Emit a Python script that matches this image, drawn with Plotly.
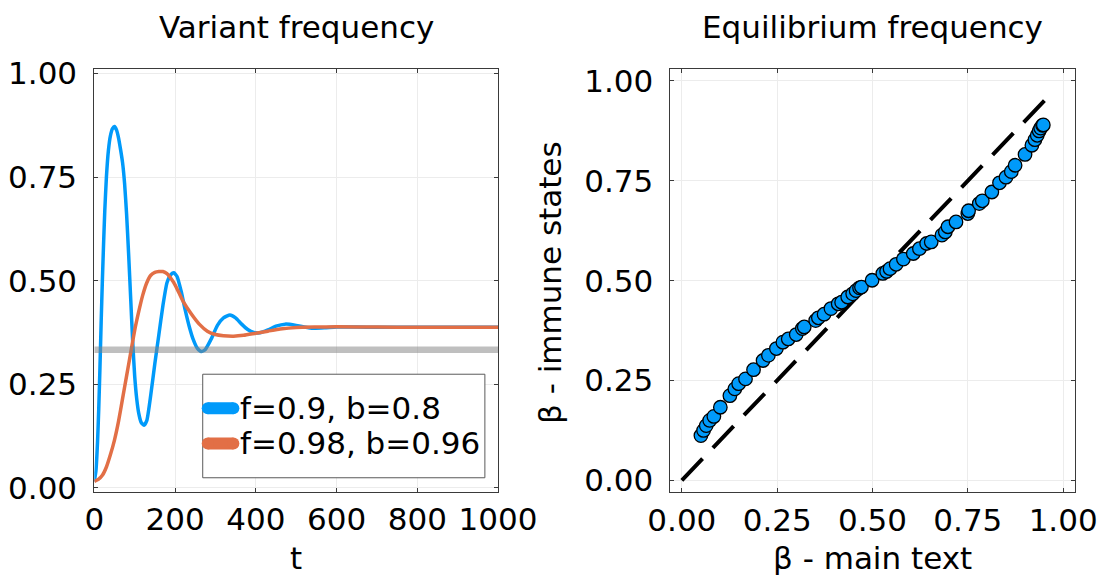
import plotly.graph_objects as go

W, H = 1112, 578
OFF = 8  # page body margin compensation
FONT = "DejaVu Sans"
FS = 31

# ---------------- data: left panel ----------------
t_blue = [0, 4, 8, 11, 14, 17, 20, 23, 26, 30, 35, 40, 45, 50, 55, 60, 65, 70, 75, 80, 85,
          90, 95, 100, 105, 110, 116, 123, 130, 140, 150, 160, 170, 180, 190, 197, 205,
          215, 225, 235, 245, 255, 265, 275, 290, 305, 320, 336, 350, 365, 380, 395, 410,
          430, 450, 473, 500, 520, 543, 570, 600, 650, 700, 800, 1000]
v_blue = [0.015, 0.04, 0.11, 0.19, 0.29, 0.4, 0.5, 0.59, 0.67, 0.75, 0.815, 0.85, 0.867,
          0.872, 0.864, 0.845, 0.817, 0.785, 0.735, 0.66, 0.565, 0.46, 0.355, 0.27, 0.215,
          0.18, 0.158, 0.151, 0.162, 0.225, 0.3, 0.37, 0.44, 0.495, 0.515, 0.519, 0.51,
          0.475, 0.43, 0.39, 0.358, 0.337, 0.329, 0.334, 0.36, 0.392, 0.41, 0.417, 0.41,
          0.395, 0.382, 0.375, 0.374, 0.381, 0.39, 0.395, 0.392, 0.388, 0.385, 0.386, 0.388,
          0.388, 0.3875, 0.3874, 0.3874]

t_orange = [0, 10, 20, 30, 40, 50, 60, 70, 80, 90, 100, 110, 120, 130, 140, 150, 160, 170,
            180, 190, 200, 210, 220, 240, 260, 280, 300, 320, 345, 370, 400, 430, 460, 500,
            550, 600, 700, 800, 1000]
v_orange = [0.015, 0.02, 0.03, 0.05, 0.08, 0.115, 0.16, 0.215, 0.27, 0.325, 0.38, 0.425,
            0.465, 0.495, 0.513, 0.52, 0.522, 0.522, 0.517, 0.505, 0.49, 0.47, 0.45, 0.42,
            0.395, 0.378, 0.37, 0.367, 0.366, 0.368, 0.373, 0.378, 0.383, 0.387, 0.388,
            0.3885, 0.3878, 0.3875, 0.3875]

ref_t = [0, 1000]
ref_level = [1 / 3, 1 / 3]

series_names = ["f=0.9, b=0.8", "f=0.98, b=0.96"]

# ---------------- data: right panel ----------------
beta_main = [0.050, 0.057, 0.064, 0.073, 0.084, 0.101, 0.126, 0.139, 0.149, 0.167, 0.188,
             0.213, 0.227, 0.248, 0.265, 0.279, 0.300, 0.316, 0.321, 0.351, 0.358, 0.373,
             0.391, 0.410, 0.419, 0.435, 0.448, 0.457, 0.466, 0.471, 0.499, 0.527, 0.537,
             0.546, 0.562, 0.581, 0.607, 0.623, 0.642, 0.654, 0.682, 0.691, 0.698, 0.719,
             0.750, 0.752, 0.780, 0.788, 0.813, 0.833, 0.850, 0.864, 0.874, 0.900, 0.918,
             0.926, 0.932, 0.937, 0.941, 0.946, 0.948]
beta_immune = [0.112, 0.125, 0.137, 0.150, 0.160, 0.183, 0.212, 0.229, 0.242, 0.254, 0.277,
               0.300, 0.313, 0.330, 0.346, 0.354, 0.365, 0.380, 0.384, 0.400, 0.407, 0.416,
               0.430, 0.442, 0.446, 0.459, 0.467, 0.475, 0.482, 0.484, 0.501, 0.518, 0.523,
               0.530, 0.541, 0.554, 0.568, 0.580, 0.593, 0.597, 0.614, 0.622, 0.635, 0.647,
               0.668, 0.675, 0.693, 0.700, 0.722, 0.745, 0.759, 0.773, 0.789, 0.816, 0.839,
               0.853, 0.864, 0.875, 0.882, 0.889, 0.890]
diag = [0.0, 0.97]

left_xticks = [0, 200, 400, 600, 800, 1000]
unit_ticks = [0.0, 0.25, 0.5, 0.75, 1.0]
unit_ticklabels = ["0.00", "0.25", "0.50", "0.75", "1.00"]

# ---------------- styles ----------------
BLUE = "#009AFA"
ORANGE = "#E26F46"
FRAME = "#3a3a3a"
GRID = "#ececec"


def px_x(p):
    return (p - OFF) / W


def px_y(p):
    return 1 - (p - OFF) / H


fig = go.Figure()

# left panel
fig.add_trace(go.Scatter(x=t_blue, y=v_blue, mode="lines",
                         line=dict(color=BLUE, width=3.5, shape="spline", smoothing=0.5),
                         xaxis="x", yaxis="y", showlegend=False, name=series_names[0]))
fig.add_trace(go.Scatter(x=t_orange, y=v_orange, mode="lines",
                         line=dict(color=ORANGE, width=3.5, shape="spline", smoothing=0.5),
                         xaxis="x", yaxis="y", showlegend=False, name=series_names[1]))
fig.add_trace(go.Scatter(x=ref_t, y=ref_level, mode="lines",
                         line=dict(color="rgba(128,128,128,0.5)", width=6.5),
                         xaxis="x", yaxis="y", showlegend=False, hoverinfo="skip"))

# manual legend (box, keys, labels) in left-panel data coordinates
fig.add_shape(type="rect", xref="x", yref="y", x0=268.6, x1=967.5, y0=0.024, y1=0.274,
              line=dict(color="#5a5a5a", width=1), fillcolor="white", layer="between")
legend_rows_y = [0.192, 0.107]
for name, col, yy in zip(series_names, [BLUE, ORANGE], legend_rows_y):
    fig.add_trace(go.Scatter(x=[281, 344.5], y=[yy, yy], mode="lines+markers",
                             line=dict(color=col, width=12),
                             marker=dict(color=col, size=12, line=dict(width=0)),
                             xaxis="x", yaxis="y", showlegend=False, hoverinfo="skip",
                             cliponaxis=False))
    fig.add_annotation(x=356, y=yy, xref="x", yref="y", text=name, showarrow=False,
                       xanchor="left", yanchor="middle",
                       font=dict(family=FONT, size=FS, color="black"))

# right panel
fig.add_trace(go.Scatter(x=diag, y=diag, mode="lines",
                         line=dict(color="black", width=4, dash="30px,15px"),
                         xaxis="x2", yaxis="y2", showlegend=False, hoverinfo="skip"))
fig.add_trace(go.Scatter(x=beta_main, y=beta_immune, mode="markers",
                         marker=dict(color=BLUE, size=13.5, line=dict(color="black", width=1.3)),
                         xaxis="x2", yaxis="y2", showlegend=False))

axis_common = dict(showline=True, linecolor=FRAME, linewidth=1, mirror="ticks", ticks="inside",
                   ticklen=4, tickcolor=FRAME, showgrid=True, gridcolor=GRID, gridwidth=1,
                   zeroline=False, automargin=False,
                   tickfont=dict(family=FONT, size=FS, color="black"))

fig.update_layout(
    width=W, height=H, autosize=False,
    margin=dict(l=0, r=0, t=0, b=0),
    paper_bgcolor="white", plot_bgcolor="white",
    xaxis=dict(domain=[px_x(94.3), px_x(498)], range=[0, 1000], tickvals=left_xticks,
               ticktext=[str(v) for v in left_xticks], anchor="y", ticklabelstandoff=0,
               **axis_common),
    yaxis=dict(domain=[px_y(492), px_y(69.3)], range=[-0.0104, 1.0104], tickvals=unit_ticks,
               ticktext=unit_ticklabels, anchor="x", ticklabelstandoff=10, **axis_common),
    xaxis2=dict(domain=[px_x(670.4), px_x(1074.6)], range=[-0.03, 1.03], tickvals=unit_ticks,
                ticktext=unit_ticklabels, anchor="y2", ticklabelstandoff=0, **axis_common),
    yaxis2=dict(domain=[px_y(492.3), px_y(69)], range=[-0.03, 1.03], tickvals=unit_ticks,
                ticktext=unit_ticklabels, anchor="x2", ticklabelstandoff=10, **axis_common),
)

texts = [
    dict(text="Variant frequency", x=px_x(296), y=px_y(27), angle=0),
    dict(text="Equilibrium frequency", x=px_x(872), y=px_y(27), angle=0),
    dict(text="t", x=px_x(296), y=px_y(558), angle=0),
    dict(text="β - main text", x=px_x(872), y=px_y(558), angle=0),
    dict(text="β - immune states", x=px_x(550), y=px_y(283), angle=-90),
]
for tx in texts:
    fig.add_annotation(text=tx["text"], x=tx["x"], y=tx["y"], xref="paper", yref="paper",
                       showarrow=False, xanchor="center", yanchor="middle",
                       textangle=tx["angle"], font=dict(family=FONT, size=FS, color="black"))

fig.write_html("out.html")
